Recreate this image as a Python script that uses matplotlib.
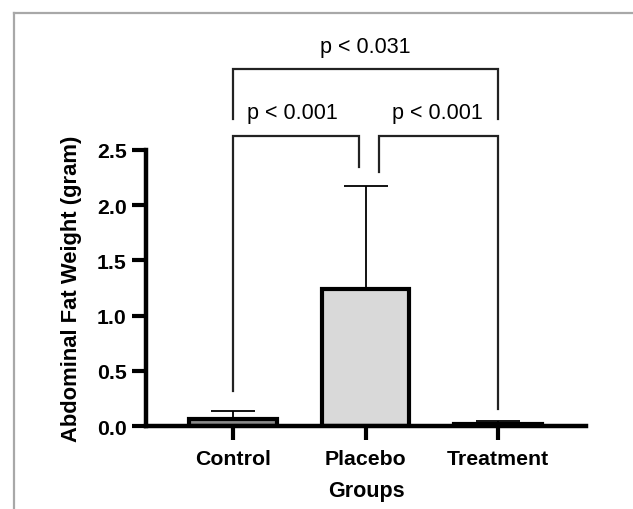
import matplotlib
matplotlib.use("Agg")
from matplotlib import pyplot as plt
from matplotlib.lines import Line2D

plt.rcParams['font.family'] = ['Liberation Sans', 'DejaVu Sans']

groups = ["Control", "Placebo", "Treatment"]
means = [0.07, 1.245, 0.018]
errors = [0.07, 0.925, 0.03]
fills = ["#8a8a8a", "#d9d9d9", "#ffffff"]

# significance brackets: (x1, x2, y_top, left leg bottom, right leg bottom, label)
brackets = [
    (0, 2, 3.225, 2.78, 2.78, "p < 0.031"),
    (0, 0.95, 2.625, 0.32, 2.345, "p < 0.001"),
    (1.1, 2, 2.625, 2.30, 0.157, "p < 0.001"),
]
label_pos = [(1.0, 3.43), (0.45, 2.84), (1.54, 2.84)]

fig = plt.figure(figsize=(6.33, 5.1), dpi=100)
ax = fig.add_axes([146/633, 82.7/510, 440/633, 276.6/510])

x = range(len(groups))
ax.bar(x, means, width=0.66, color=fills, edgecolor="black", linewidth=3, zorder=2)
ax.errorbar(x, means, yerr=[[0]*3, errors], fmt="none", ecolor="black",
            elinewidth=1.3, capsize=16, capthick=1.3, zorder=1)

ax.set_xlim(-0.657, 2.664)
ax.set_ylim(0, 2.5)
ax.set_yticks([0, 0.5, 1.0, 1.5, 2.0, 2.5])
ax.set_yticklabels(["0.0", "0.5", "1.0", "1.5", "2.0", "2.5"])
ax.set_xticks(list(x))
ax.set_xticklabels(groups)

for s in ["top", "right"]:
    ax.spines[s].set_visible(False)
for s in ["left", "bottom"]:
    ax.spines[s].set_linewidth(3.2)
ax.tick_params(axis="both", width=3, length=10, labelsize=15.3)
ax.tick_params(axis="y", pad=4)
ax.tick_params(axis="x", pad=6)
for lab in ax.get_xticklabels() + ax.get_yticklabels():
    lab.set_fontweight("bold")

ax.set_xlabel("Groups", fontsize=15.5, fontweight="bold", labelpad=9)
ax.set_ylabel("Abdominal Fat Weight (gram)", fontsize=15.8, fontweight="bold", labelpad=11)

for (x1, x2, yt, yl, yr, txt), (tx, ty) in zip(brackets, label_pos):
    ax.plot([x1, x1, x2, x2], [yl, yt, yt, yr], color="#222222", lw=1.6,
            clip_on=False, solid_joinstyle="miter")
    ax.text(tx, ty, txt, ha="center", va="center", fontsize=15.5, clip_on=False)

# grey frame of the original panel (only top and left edges visible)
fig.add_artist(Line2D([14/633, 14/633], [0, 1 - 14/510], transform=fig.transFigure,
                      color="#a8a8a8", lw=1.6))
fig.add_artist(Line2D([14/633, 1], [1 - 14/510, 1 - 14/510], transform=fig.transFigure,
                      color="#a8a8a8", lw=1.6))

fig.savefig("out.png", dpi=100)
